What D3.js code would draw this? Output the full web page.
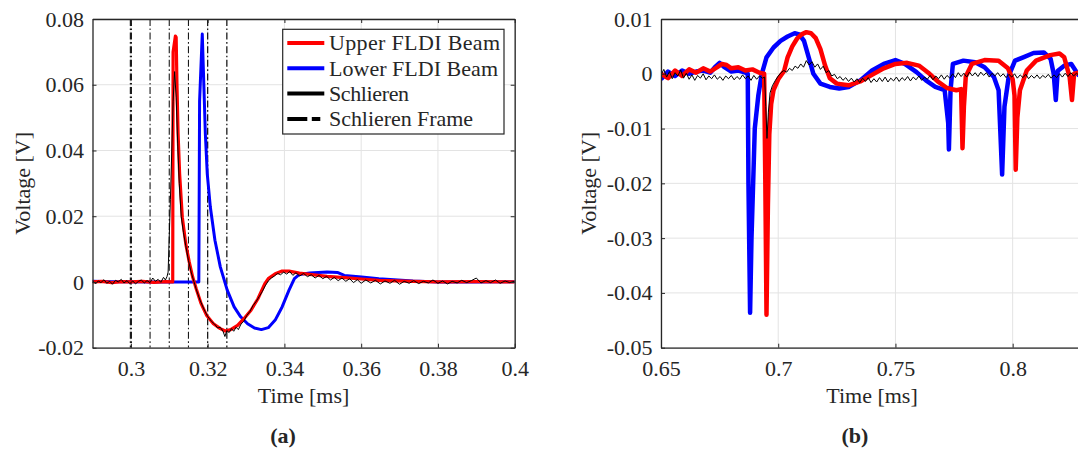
<!DOCTYPE html>
<html>
<head>
<meta charset="utf-8">
<script src="https://cdn.jsdelivr.net/npm/d3@7"></script>
<style>
  body { margin: 0; background: #fff; }
  svg text { font-family: "Liberation Serif", "DejaVu Serif", serif !important; fill: #262626; }
</style>
</head>
<body>
<svg id="fig" width="1078" height="449"></svg>
<script>
// ---- panel (a) data : [time ms, voltage V] ----
var upperA = [[0.290,0.0000],[0.2925,0.0002],[0.295,-0.0002],[0.2975,0.0001],[0.300,0.0000],[0.303,0.0002],[0.306,-0.0001],[0.309,0.0001],
  [0.3109,0.0000],[0.3110,0.0700],[0.3116,0.0748],[0.3118,0.0744],[0.3120,0.0603],[0.3123,0.0451],[0.3127,0.0329],[0.3134,0.0197],
  [0.3143,0.0116],[0.3152,0.0061],[0.3161,0.0015],[0.3170,-0.0020],[0.3183,-0.0066],[0.3197,-0.0101],[0.3215,-0.0127],[0.3233,-0.0142],
  [0.3246,-0.0149],[0.3260,-0.0145],[0.3278,-0.0132],[0.3295,-0.0111],[0.3313,-0.0086],[0.3331,-0.0051],[0.3349,-0.0005],[0.3358,0.0010],
  [0.3376,0.0025],[0.3394,0.0033],[0.3412,0.0033],[0.3439,0.0027],[0.3466,0.0023],[0.3511,0.0017],[0.3556,0.0013],[0.3601,0.0009],
  [0.3646,0.0005],[0.3735,0.0002],[0.380,0.0000],[0.390,0.0001],[0.400,0.0000]];
var lowerA = [[0.290,0.0002],[0.295,0.0001],[0.300,0.0001],[0.305,0.0000],[0.310,0.0000],[0.315,0.0000],[0.3177,0.0000],[0.3179,0.0550],
  [0.3186,0.0754],[0.3190,0.0603],[0.3194,0.0451],[0.3199,0.0329],[0.3207,0.0228],[0.3219,0.0127],[0.3233,0.0046],[0.3251,-0.0025],
  [0.3269,-0.0076],[0.3286,-0.0106],[0.3304,-0.0127],[0.3322,-0.0140],[0.3340,-0.0145],[0.3358,-0.0139],[0.3376,-0.0116],[0.3394,-0.0076],
  [0.3412,-0.0025],[0.3426,0.0010],[0.3439,0.0023],[0.3466,0.0027],[0.3511,0.0030],[0.3538,0.0029],[0.3556,0.0020],[0.3601,0.0015],
  [0.3646,0.0010],[0.3735,0.0003],[0.380,0.0000],[0.390,0.0000],[0.400,0.0001]];
var schlierenA = [[0.2900,0.0004],[0.2908,-0.0006],[0.2915,0.0003],[0.2922,-0.0002],[0.2930,0.0007],[0.2937,-0.0004],[0.2945,0.0002],
  [0.2952,-0.0007],[0.2960,0.0005],[0.2967,0.0000],[0.2975,0.0008],[0.2982,-0.0003],[0.2990,0.0004],[0.2997,-0.0005],[0.3005,0.0003],
  [0.3012,-0.0006],[0.3020,0.0002],[0.3027,0.0006],[0.3035,-0.0003],[0.3042,0.0004],[0.3050,-0.0002],[0.3057,0.0012],[0.3064,0.0002],
  [0.3071,0.0008],[0.3078,-0.0001],[0.3085,0.0014],[0.3090,0.0006],[0.3094,0.0016],[0.3097,0.0030],[0.3103,0.0250],[0.3110,0.0550],
  [0.3114,0.0640],[0.3118,0.0560],[0.3122,0.0420],[0.3126,0.0300],[0.3131,0.0200],[0.3137,0.0150],[0.3143,0.0110],[0.3150,0.0065],
  [0.3157,0.0030],[0.3164,0.0002],[0.3171,-0.0025],[0.3180,-0.0055],[0.3190,-0.0082],[0.3200,-0.0105],[0.3210,-0.0120],[0.3218,-0.0128],
  [0.3226,-0.0140],[0.3233,-0.0138],[0.3240,-0.0150],[0.3245,-0.0166],[0.3250,-0.0148],[0.3256,-0.0154],[0.3262,-0.0142],[0.3268,-0.0150],
  [0.3274,-0.0138],[0.3280,-0.0145],[0.3287,-0.0128],[0.3294,-0.0120],[0.3302,-0.0102],[0.3310,-0.0090],[0.3318,-0.0072],[0.3326,-0.0060],
  [0.3334,-0.0045],[0.3342,-0.0030],[0.3350,-0.0012],[0.3358,0.0003],[0.3366,0.0012],[0.3374,0.0018],[0.3382,0.0026],[0.3390,0.0022],
  [0.3398,0.0030],[0.3406,0.0024],[0.3414,0.0032],[0.3422,0.0020],[0.3430,0.0028],[0.3440,0.0018],[0.3450,0.0026],[0.3460,0.0016],
  [0.3470,0.0022],[0.3480,0.0012],[0.3490,0.0020],[0.3500,0.0010],[0.3510,0.0017],[0.3520,0.0006],[0.3530,0.0014],[0.3540,0.0004],
  [0.3550,0.0012],[0.3560,0.0002],[0.3570,0.0010],[0.3580,-0.0002],[0.3590,0.0007],[0.3600,-0.0004],[0.3612,0.0006],[0.3625,-0.0003],
  [0.3637,0.0005],[0.3650,-0.0006],[0.3662,0.0003],[0.3675,-0.0004],[0.3687,0.0005],[0.3700,-0.0007],[0.3712,0.0002],[0.3725,-0.0004],
  [0.3737,0.0004],[0.3750,-0.0005],[0.3762,0.0002],[0.3775,-0.0003],[0.3787,0.0006],[0.3800,-0.0004],[0.3812,0.0003],[0.3825,-0.0006],
  [0.3837,0.0002],[0.3850,-0.0003],[0.3862,0.0005],[0.3875,-0.0002],[0.3887,0.0004],[0.3900,0.0012],[0.3912,-0.0003],[0.3925,0.0004],
  [0.3937,-0.0002],[0.3950,0.0006],[0.3962,-0.0004],[0.3975,0.0003],[0.3987,-0.0002],[0.4000,0.0002]];
var frameTimes = [0.300, 0.305, 0.310, 0.315, 0.320, 0.325];
var frameWidths = [2.2, 1.1, 1.1, 1.1, 1.3, 1.3];

// ---- panel (b) data ----
var upperB = [[0.650,0.0000],[0.653,-0.0008],[0.656,0.0006],[0.659,-0.0004],[0.662,0.0008],[0.665,0.0002],[0.668,0.0010],[0.671,0.0004],
  [0.674,0.0012],[0.676,0.0018],[0.678,0.0016],[0.680,0.0010],[0.683,0.0012],[0.686,0.0006],[0.689,0.0008],[0.692,0.0002],[0.694,0.0000],
  [0.6945,-0.0200],[0.6950,-0.0440],[0.6956,-0.0240],[0.6962,-0.0110],[0.6970,-0.0055],[0.6980,-0.0030],[0.700,-0.0010],[0.7025,0.0005],
  [0.704,0.0030],[0.706,0.0050],[0.708,0.0064],[0.710,0.0072],[0.712,0.0076],[0.714,0.0074],[0.716,0.0065],[0.718,0.0045],[0.720,0.0015],
  [0.722,-0.0008],[0.725,-0.0018],[0.730,-0.0021],[0.735,-0.0014],[0.740,-0.0002],[0.745,0.0010],[0.750,0.0018],[0.755,0.0020],
  [0.760,0.0015],[0.764,0.0002],[0.768,-0.0014],[0.772,-0.0026],[0.776,-0.0030],[0.778,-0.0028],[0.7786,-0.0136],[0.7792,-0.0060],
  [0.780,-0.0005],[0.7826,0.0018],[0.788,0.0025],[0.794,0.0024],[0.798,0.0010],[0.800,-0.0010],[0.8008,-0.0040],[0.8013,-0.0175],
  [0.8020,-0.0080],[0.8031,-0.0030],[0.806,0.0006],[0.810,0.0024],[0.816,0.0034],[0.820,0.0037],[0.822,0.0030],[0.8243,-0.0006],
  [0.8253,-0.0048],[0.8262,0.0000],[0.828,0.0002],[0.830,0.0000]];
var lowerB = [[0.650,-0.0010],[0.653,0.0004],[0.656,-0.0004],[0.659,0.0006],[0.662,0.0000],[0.665,0.0004],[0.668,0.0006],[0.671,0.0002],
  [0.673,0.0012],[0.675,0.0020],[0.677,0.0012],[0.680,0.0004],[0.683,0.0006],[0.686,0.0002],[0.687,0.0000],[0.6873,-0.0200],
  [0.6880,-0.0436],[0.6886,-0.0300],[0.6893,-0.0200],[0.6900,-0.0100],[0.6915,-0.0040],[0.6930,0.0000],[0.695,0.0030],[0.698,0.0048],
  [0.701,0.0060],[0.704,0.0068],[0.707,0.0074],[0.709,0.0072],[0.711,0.0060],[0.713,0.0030],[0.715,0.0000],[0.718,-0.0018],
  [0.722,-0.0024],[0.726,-0.0027],[0.730,-0.0024],[0.735,-0.0012],[0.740,0.0006],[0.745,0.0018],[0.750,0.0025],[0.754,0.0018],
  [0.759,0.0003],[0.763,-0.0012],[0.767,-0.0024],[0.771,-0.0030],[0.7725,-0.0090],[0.7728,-0.0138],[0.7735,-0.0030],[0.7745,0.0018],
  [0.779,0.0024],[0.784,0.0021],[0.788,0.0012],[0.792,-0.0006],[0.794,-0.0030],[0.7955,-0.0184],[0.7965,-0.0060],[0.7984,-0.0003],
  [0.801,0.0024],[0.8045,0.0030],[0.8089,0.0038],[0.8133,0.0039],[0.8162,0.0027],[0.8175,0.0000],[0.8184,-0.0048],[0.8192,0.0005],
  [0.8221,0.0015],[0.8250,0.0018],[0.828,-0.0002],[0.830,0.0000]];
var schlierenB = [[0.6500,-0.0002],[0.6512,0.0008],[0.6524,-0.0006],[0.6536,0.0004],[0.6548,-0.0009],[0.6560,0.0002],[0.6572,-0.0004],
  [0.6584,0.0007],[0.6596,-0.0008],[0.6608,0.0001],[0.6620,-0.0010],[0.6632,-0.0002],[0.6644,-0.0012],[0.6656,-0.0003],[0.6668,-0.0008],
  [0.6680,0.0000],[0.6692,-0.0011],[0.6704,-0.0004],[0.6716,-0.0009],[0.6728,-0.0002],[0.6740,-0.0010],[0.6752,-0.0005],[0.6764,-0.0012],
  [0.6776,-0.0004],[0.6788,-0.0009],[0.6800,-0.0003],[0.6812,-0.0011],[0.6824,-0.0005],[0.6836,-0.0010],[0.6848,-0.0002],[0.6860,-0.0009],
  [0.6872,-0.0004],[0.6884,-0.0012],[0.6896,-0.0003],[0.6908,-0.0010],[0.6920,-0.0004],[0.6932,-0.0008],[0.6942,-0.0006],[0.6947,-0.0060],
  [0.6952,-0.0118],[0.6958,-0.0070],[0.6965,-0.0035],[0.6975,-0.0022],[0.6988,-0.0012],[0.7000,-0.0004],[0.7012,0.0002],[0.7024,0.0006],
  [0.7036,0.0003],[0.7048,0.0010],[0.7060,0.0006],[0.7072,0.0014],[0.7084,0.0010],[0.7096,0.0018],[0.7108,0.0012],[0.7120,0.0024],
  [0.7132,0.0016],[0.7144,0.0022],[0.7156,0.0012],[0.7168,0.0018],[0.7180,0.0008],[0.7192,0.0014],[0.7204,0.0002],[0.7216,0.0006],
  [0.7228,-0.0004],[0.7240,-0.0001],[0.7252,-0.0009],[0.7264,-0.0005],[0.7276,-0.0012],[0.7288,-0.0007],[0.7300,-0.0014],[0.7312,-0.0008],
  [0.7324,-0.0015],[0.7336,-0.0009],[0.7348,-0.0016],[0.7360,-0.0008],[0.7372,-0.0014],[0.7384,-0.0007],[0.7396,-0.0016],[0.7408,-0.0009],
  [0.7420,-0.0015],[0.7432,-0.0007],[0.7444,-0.0014],[0.7456,-0.0006],[0.7468,-0.0015],[0.7480,-0.0008],[0.7492,-0.0013],[0.7504,-0.0006],
  [0.7516,-0.0014],[0.7528,-0.0007],[0.7540,-0.0012],[0.7552,-0.0005],[0.7564,-0.0013],[0.7576,-0.0006],[0.7588,-0.0011],[0.7600,-0.0004],
  [0.7612,-0.0012],[0.7624,-0.0006],[0.7636,-0.0010],[0.7648,-0.0003],[0.7660,-0.0011],[0.7672,-0.0004],[0.7684,-0.0009],[0.7696,-0.0002],
  [0.7708,-0.0010],[0.7720,-0.0003],[0.7732,-0.0008],[0.7744,0.0000],[0.7756,-0.0007],[0.7768,0.0002],[0.7780,-0.0005],[0.7792,0.0001],
  [0.7804,-0.0006],[0.7816,0.0003],[0.7828,-0.0004],[0.7840,0.0002],[0.7852,-0.0005],[0.7864,0.0003],[0.7876,-0.0003],[0.7888,0.0002],
  [0.7900,-0.0006],[0.7912,0.0001],[0.7924,-0.0004],[0.7936,0.0002],[0.7948,-0.0005],[0.7960,0.0000],[0.7972,-0.0007],[0.7984,-0.0001],
  [0.7996,-0.0006],[0.8008,0.0000],[0.8020,-0.0008],[0.8032,-0.0002],[0.8044,-0.0007],[0.8056,-0.0001],[0.8068,-0.0009],[0.8080,-0.0003],
  [0.8092,-0.0008],[0.8104,-0.0002],[0.8116,-0.0009],[0.8128,-0.0003],[0.8140,-0.0007],[0.8152,-0.0001],[0.8164,-0.0008],[0.8176,-0.0002],
  [0.8188,-0.0007],[0.8200,0.0000],[0.8212,-0.0006],[0.8224,0.0001],[0.8236,-0.0005],[0.8248,0.0002],[0.8260,-0.0004],[0.8272,0.0001],
  [0.8284,-0.0003],[0.8300,0.0000]];

// ticks
var xTicksA = [0.3, 0.32, 0.34, 0.36, 0.38, 0.4];
var yTicksA = [-0.02, 0, 0.02, 0.04, 0.06, 0.08];
var xTicksB = [0.65, 0.7, 0.75, 0.8];
var yTicksB = [-0.05, -0.04, -0.03, -0.02, -0.01, 0, 0.01];

var legendNames = ["Upper FLDI Beam", "Lower FLDI Beam", "Schlieren", "Schlieren Frame"];

var serif = "'Liberation Serif', 'DejaVu Serif', serif";
var svg = d3.select("#fig");
svg.append("rect").attr("width", 1078).attr("height", 449).attr("fill", "#fff");

var fmt = function(d) { return String(+d.toFixed(3)); };
var axisColor = "#262626";

function drawPanel(cfg) {
  var x = d3.scaleLinear().domain(cfg.xDomain).range(cfg.xRange);
  var y = d3.scaleLinear().domain(cfg.yDomain).range(cfg.yRange);
  var x0 = cfg.xRange[0], x1 = cfg.xRange[1], y0 = cfg.yRange[1], y1 = cfg.yRange[0];

  var g = svg.append("g");

  // grid
  g.selectAll(".gx").data(cfg.xTicks).enter().append("line")
    .attr("x1", d => x(d)).attr("x2", d => x(d)).attr("y1", y0).attr("y2", y1)
    .attr("stroke", "#e3e3e3").attr("stroke-width", 1);
  g.selectAll(".gy").data(cfg.yTicks).enter().append("line")
    .attr("x1", x0).attr("x2", x1).attr("y1", d => y(d)).attr("y2", d => y(d))
    .attr("stroke", "#e3e3e3").attr("stroke-width", 1);

  var clipId = "clip-" + cfg.id;
  g.append("clipPath").attr("id", clipId).append("rect")
    .attr("x", x0).attr("y", y0).attr("width", x1 - x0).attr("height", y1 - y0);
  var plot = g.append("g").attr("clip-path", "url(#" + clipId + ")");

  // schlieren frame markers
  if (cfg.frames) {
    plot.selectAll(".frame").data(cfg.frames).enter().append("line")
      .attr("x1", d => x(d)).attr("x2", d => x(d)).attr("y1", y0).attr("y2", y1)
      .attr("stroke", "#1a1a1a")
      .attr("stroke-width", (d, i) => cfg.frameWidths[i])
      .attr("stroke-dasharray", "7,2.5,1.6,2.5");
  }

  var line = d3.line().x(d => x(d[0])).y(d => y(d[1]));
  cfg.series.forEach(function(s) {
    plot.append("path").datum(s.data)
      .attr("d", line)
      .attr("fill", "none")
      .attr("stroke", s.color)
      .attr("stroke-width", s.width)
      .attr("stroke-linejoin", "round");
  });

  // axes (MATLAB style: ticks inward on all four sides)
  function styleAxis(sel) {
    sel.attr("font-family", serif).attr("font-size", 22);
    sel.select(".domain").attr("stroke", axisColor).attr("stroke-width", 1.3);
    sel.selectAll(".tick line").attr("stroke", axisColor).attr("stroke-width", 1);
    sel.selectAll(".tick text").attr("fill", axisColor).style("font-family", serif);
  }
  g.append("g").attr("transform", "translate(0," + y1 + ")")
    .call(d3.axisBottom(x).tickValues(cfg.xTicks).tickSizeInner(-4).tickSizeOuter(0).tickPadding(13).tickFormat(fmt))
    .call(styleAxis);
  g.append("g").attr("transform", "translate(" + x0 + ",0)")
    .call(d3.axisLeft(y).tickValues(cfg.yTicks).tickSizeInner(-4).tickSizeOuter(0).tickPadding(8.5).tickFormat(fmt))
    .call(styleAxis);
  g.append("g").attr("transform", "translate(0," + y0 + ")")
    .call(d3.axisTop(x).tickValues(cfg.xTicks).tickSizeInner(-4).tickSizeOuter(0).tickFormat(""))
    .call(styleAxis);
  g.append("g").attr("transform", "translate(" + x1 + ",0)")
    .call(d3.axisRight(y).tickValues(cfg.yTicks).tickSizeInner(-4).tickSizeOuter(0).tickFormat(""))
    .call(styleAxis);

  // labels
  var cx = (x0 + x1) / 2;
  g.append("text").attr("x", cx).attr("y", 403).attr("text-anchor", "middle")
    .attr("font-size", 22).style("font-family", serif).text("Time [ms]");
  g.append("text").attr("transform", "translate(" + cfg.yLabelX + "," + ((y0 + y1) / 2) + ") rotate(-90)")
    .attr("text-anchor", "middle").attr("font-size", 22).style("font-family", serif).text("Voltage [V]");
  g.append("text").attr("x", cfg.capX).attr("y", 443).attr("text-anchor", "middle")
    .attr("font-size", 22).attr("font-weight", "bold").style("font-family", serif).text(cfg.caption);

  return g;
}

drawPanel({
  id: "a", xDomain: [0.29, 0.4], yDomain: [-0.02, 0.08],
  xRange: [92.5, 514.7], yRange: [347.7, 19],
  xTicks: xTicksA, yTicks: yTicksA,
  frames: frameTimes, frameWidths: frameWidths,
  series: [
    {data: lowerA, color: "#0000ff", width: 3},
    {data: upperA, color: "#ff0000", width: 3.2},
    {data: schlierenA, color: "#000", width: 1}
  ],
  yLabelX: 29.5, capX: 283, caption: "(a)"
});

drawPanel({
  id: "b", xDomain: [0.65, 0.83], yDomain: [-0.05, 0.01],
  xRange: [661, 1083], yRange: [347.7, 19],
  xTicks: xTicksB, yTicks: yTicksB,
  series: [
    {data: lowerB, color: "#0000ff", width: 4.5},
    {data: upperB, color: "#ff0000", width: 4.5},
    {data: schlierenB, color: "#000", width: 1}
  ],
  yLabelX: 595.5, capX: 855, caption: "(b)"
});

// legend for panel (a)
var legendColors = ["#ff0000", "#0000ff", "#000", "#000"];
var legendDash = [null, null, null, "20,4.5,8.5,100"];
var legendTextLen = [171, 169, 80, 144];
var leg = svg.append("g");
leg.append("rect").attr("x", 282.7).attr("y", 29.3).attr("width", 221.3).attr("height", 104.7)
  .attr("fill", "#fff").attr("stroke", axisColor).attr("stroke-width", 1.2);
legendNames.forEach(function(name, i) {
  var ly = 43 + i * 25.3;
  leg.append("line").attr("x1", 287.3).attr("x2", 324.3).attr("y1", ly).attr("y2", ly)
    .attr("stroke", legendColors[i]).attr("stroke-width", 4)
    .attr("stroke-dasharray", legendDash[i]);
  leg.append("text").attr("x", 329).attr("y", ly).attr("dy", "0.33em")
    .attr("font-size", 22).style("font-family", serif)
    .attr("textLength", legendTextLen[i]).attr("lengthAdjust", "spacing")
    .text(name);
});
</script>
</body>
</html>
